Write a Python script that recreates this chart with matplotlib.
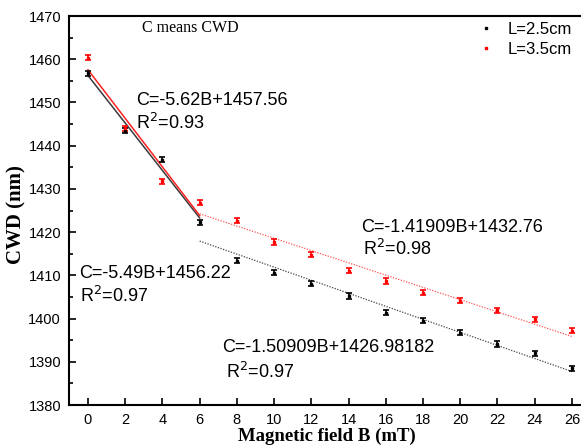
import matplotlib.pyplot as plt
import numpy as np

B = [0, 2, 4, 6, 8, 10, 12, 14, 16, 18, 20, 22, 24, 26]
cwd_25 = [1456.7, 1443.5, 1436.8, 1422.3, 1413.4, 1410.6, 1408.1, 1405.2,
          1401.4, 1399.5, 1396.7, 1394.1, 1392.0, 1388.5]
cwd_35 = [1460.4, 1444.0, 1431.8, 1426.8, 1422.6, 1417.7, 1414.8, 1411.1,
          1408.7, 1406.0, 1404.1, 1401.9, 1399.8, 1397.2]
err = 0.6

# linear fits (slope, intercept) shown on the chart
fit_25_low = (-5.49, 1456.22)
fit_35_low = (-5.62, 1457.56)
fit_25_high = (-1.50909, 1426.98182)
fit_35_high = (-1.41909, 1432.76)

sans = ['Liberation Sans', 'DejaVu Sans']
serif = ['Liberation Serif', 'DejaVu Serif']

fig = plt.figure(figsize=(5.81, 4.46), dpi=100)
ax = fig.add_axes([0.1194, 0.0919, 0.897, 0.8722])

ax.errorbar(B, cwd_25, yerr=err, fmt='s', color='black', ms=1.8,
            capsize=2.5, elinewidth=1.2, capthick=1.2, zorder=3)
ax.errorbar(B, cwd_35, yerr=err, fmt='s', color='red', ms=1.8,
            capsize=2.5, elinewidth=1.2, capthick=1.2, zorder=3)

xl = np.array([0, 6])
ax.plot(xl, fit_25_low[0] * xl + fit_25_low[1], color='#3a3a3a', lw=1.1)
ax.plot(xl, fit_35_low[0] * xl + fit_35_low[1], color='#ff2020', lw=1.1)
xh = np.array([6, 26])
ax.plot(xh, fit_25_high[0] * xh + fit_25_high[1], color='#444444', lw=0.9, ls=(0, (1, 1.2)))
ax.plot(xh, fit_35_high[0] * xh + fit_35_high[1], color='#ff5555', lw=0.9, ls=(0, (1, 1.2)))

ax.set_xlim(-1, 27)
ax.set_ylim(1380, 1470)
ax.set_xticks(range(0, 27, 2))
ax.set_yticks(range(1380, 1471, 10))
ax.set_yticks(range(1385, 1470, 10), minor=True)
ax.tick_params(direction='in', length=5, width=1.2, labelsize=10.5, pad=6)
ax.tick_params(which='minor', direction='in', length=3, width=1.2)
for lab in ax.get_xticklabels() + ax.get_yticklabels():
    lab.set_family(sans)
for s in ax.spines.values():
    s.set_linewidth(1.5)
ax.spines['right'].set_visible(False)

ax.set_xlabel('Magnetic field B (mT)', family=serif, fontweight='bold', fontsize=13.5)
ax.set_ylabel('CWD (nm)', family=serif, fontweight='bold', fontsize=15)
ax.yaxis.set_label_coords(-0.083, 0.49)
ax.xaxis.set_label_coords(0.495, -0.058)

ax.text(2.9, 1467.2, 'C means CWD', family=serif, fontsize=11.5, va='center')

tk = dict(family=sans, fontsize=13, va='center')
ax.text(2.6, 1450.5, 'C=-5.62B+1457.56', **tk)
ax.text(2.6, 1445.3, 'R$^2$=0.93', **tk)
ax.text(-0.45, 1410.4, 'C=-5.49B+1456.22', **tk)
ax.text(-0.45, 1405.3, 'R$^2$=0.97', **tk)
ax.text(14.7, 1421.1, 'C=-1.41909B+1432.76', **tk)
ax.text(14.8, 1416.2, 'R$^2$=0.98', **tk)
ax.text(7.2, 1393.3, 'C=-1.50909B+1426.98182', **tk)
ax.text(7.4, 1387.6, 'R$^2$=0.97', **tk)

lh1, = ax.plot([], [], 's', color='black', ms=2)
lh2, = ax.plot([], [], 's', color='red', ms=2)
fig.legend([lh1, lh2], ['L=2.5cm', 'L=3.5cm'], loc='upper right',
           bbox_to_anchor=(1.01, 0.985), frameon=False,
           prop={'family': sans, 'size': 12}, handlelength=1,
           handletextpad=0.8, labelspacing=0.3)

fig.savefig('out.png', dpi=100)
